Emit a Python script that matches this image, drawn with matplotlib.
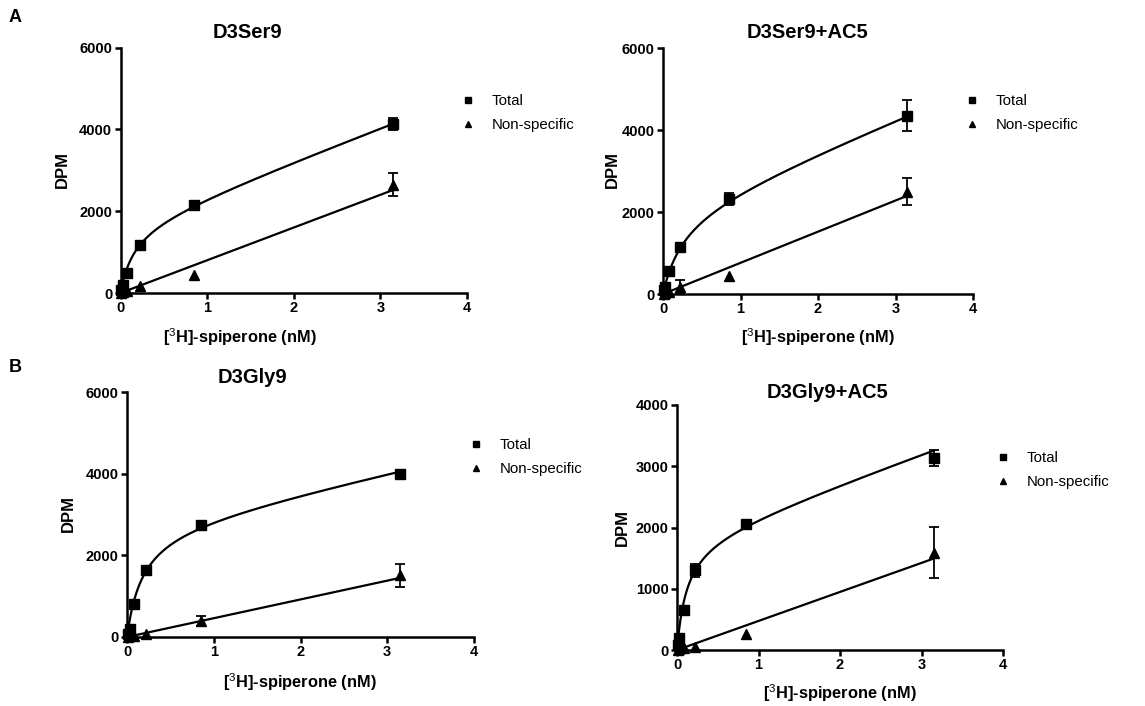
import numpy as np
import matplotlib
matplotlib.use("Agg")
import matplotlib.pyplot as plt
from matplotlib.lines import Line2D

plt.rcParams["font.family"] = ["Liberation Sans", "DejaVu Sans"]
plt.rcParams["mathtext.fontset"] = "custom"
plt.rcParams["mathtext.rm"] = "Liberation Sans"
plt.rcParams["mathtext.bf"] = "Liberation Sans:bold"

# spiperone concentrations (nM)
conc = [0.01, 0.03, 0.08, 0.22, 0.85, 3.15]

titles = ["D3Ser9", "D3Ser9+AC5", "D3Gly9", "D3Gly9+AC5"]

nan = np.nan
total = [
    [80, 200, 490, 1180, 2150, 4130],
    [100, 180, 550, 1140, 2320, 4350],
    [80, 200, 820, 1650, 2750, 3980],
    [80, 200, 650, 1300, 2060, 3140],
]
# error bars hidden behind the markers are left out (nan)
total_err = [
    [nan, nan, nan, nan, nan, 150],
    [nan, nan, nan, nan, 150, 380],
    [nan, nan, nan, nan, nan, nan],
    [nan, nan, nan, 110, nan, 130],
]
nonspec = [
    [5, 20, 40, 180, 440, 2650],
    [5, 20, 40, 180, 430, 2500],
    [5, 15, 30, 65, 390, 1510],
    [5, 15, 30, 55, 265, 1590],
]
nonspec_err = [
    [nan, nan, nan, nan, nan, 280],
    [nan, nan, nan, 150, nan, 320],
    [nan, nan, nan, nan, 120, 280],
    [nan, nan, nan, nan, nan, 420],
]

# one-site fit parameters: Bmax, Kd, NS slope
bmax = [1700, 2100, 2750, 1830]
kd = [0.16, 0.27, 0.18, 0.12]
ns_slope = [800, 760, 460, 474]

y_max = [6000, 6000, 6000, 4000]
y_step = [2000, 2000, 2000, 1000]

W, H = 1145, 706
# axes boxes in pixels: left, top, right, bottom
boxes = [
    (120.5, 47.5, 467, 293),
    (663, 48, 973, 294),
    (127, 392, 474, 637),
    (677, 405, 1003, 650),
]
title_pos = [(247, 33), (808, 33), (252, 377), (828, 392)]
xlabel_pos = [(240, 337), (818, 337), (300, 682), (840, 693)]
ylabel_pos = [(62, 170), (612, 170), (68, 513), (622, 527)]
legend_pos = [(460, 94), (964, 94), (468, 438), (995, 451)]

fig = plt.figure(figsize=(W / 100, H / 100), dpi=100)

for i in range(4):
    l, t, r, b = boxes[i]
    ax = fig.add_axes([l / W, 1 - b / H, (r - l) / W, (b - t) / H])

    xs = np.linspace(0, conc[-1], 300)
    ns_fit = ns_slope[i] * xs
    tot_fit = bmax[i] * xs / (kd[i] + xs) + ns_fit
    ax.plot(xs, tot_fit, color="black", lw=1.6, clip_on=False)
    ax.plot(xs, ns_fit, color="black", lw=1.6, clip_on=False)

    ax.errorbar(conc, total[i], yerr=total_err[i], fmt="s", color="black",
                ms=6.5, capsize=3.5, elinewidth=1.3, capthick=1.3,
                clip_on=False, label="Total")
    ax.errorbar(conc, nonspec[i], yerr=nonspec_err[i], fmt="^", color="black",
                ms=6.5, capsize=3.5, elinewidth=1.3, capthick=1.3,
                clip_on=False, label="Non-specific")

    ax.set_xlim(0, 4)
    ax.set_ylim(0, y_max[i])
    ax.set_xticks([0, 1, 2, 3, 4])
    ax.set_yticks(np.arange(0, y_max[i] + 1, y_step[i]))
    for s in ["top", "right"]:
        ax.spines[s].set_visible(False)
    for s in ["left", "bottom"]:
        ax.spines[s].set_linewidth(1.8)
    ax.tick_params(width=1.8, length=4, labelsize=10.5, pad=2)
    for lab in ax.get_xticklabels() + ax.get_yticklabels():
        lab.set_fontweight("bold")

    labels = ["Total", "Non-specific"]
    hs = [Line2D([], [], marker="s", ls="none", color="black", ms=5),
          Line2D([], [], marker="^", ls="none", color="black", ms=5)]
    lx, ly = legend_pos[i]
    ax.legend(hs, labels, loc="upper left", bbox_to_anchor=(lx / W, 1 - ly / H),
              bbox_transform=fig.transFigure, frameon=False, fontsize=10.8,
              handlelength=1.0, handletextpad=1.1, labelspacing=0.65,
              borderpad=0, borderaxespad=0)

    fig.text(title_pos[i][0] / W, 1 - title_pos[i][1] / H, titles[i],
             ha="center", va="center", fontsize=14.5, fontweight="bold")
    fig.text(xlabel_pos[i][0] / W, 1 - xlabel_pos[i][1] / H,
             r"[$^{\mathrm{3}}$H]-spiperone (nM)",
             ha="center", va="center", fontsize=11.8, fontweight="bold")
    fig.text(ylabel_pos[i][0] / W, 1 - ylabel_pos[i][1] / H, "DPM",
             ha="center", va="center", fontsize=12, fontweight="bold",
             rotation=90)

fig.text(15 / W, 1 - 18 / H, "A", ha="center", va="center",
         fontsize=13, fontweight="bold")
fig.text(15 / W, 1 - 368 / H, "B", ha="center", va="center",
         fontsize=13, fontweight="bold")

fig.savefig("out.png", dpi=100)
